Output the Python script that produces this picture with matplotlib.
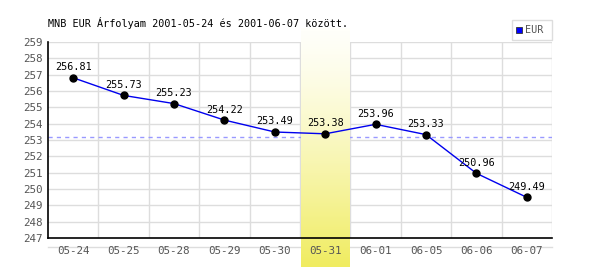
import numpy as np
import matplotlib.pyplot as plt
from matplotlib.patches import Rectangle
from matplotlib.colors import LinearSegmentedColormap

datumok = ["05-24", "05-25", "05-28", "05-29", "05-30",
           "05-31", "06-01", "06-05", "06-06", "06-07"]
arfolyam = [256.81, 255.73, 255.23, 254.22, 253.49,
            253.38, 253.96, 253.33, 250.96, 249.49]
atlag = 253.2
kiemelt = 5
cim = "MNB EUR Árfolyam 2001-05-24 és 2001-06-07 között."

plt.rcParams['font.family'] = ['DejaVu Sans Mono']

fig = plt.figure(figsize=(6, 2.7), dpi=100)
ax = fig.add_axes([0.08, 0.1185, 0.84, 0.7259])
x = np.arange(len(datumok))

# kiemelt nap sáv (színátmenet)
cmap = LinearSegmentedColormap.from_list("sarga", ["#fffffa", "#f0ec60"])
grad = np.linspace(0, 1, 256).reshape(-1, 1) ** 1.3
ax.imshow(grad, cmap=cmap, aspect='auto', extent=(kiemelt - 0.48, kiemelt + 0.48, 245.2, 259.8),
          origin='upper', zorder=2.5, clip_on=False)

ax.set_xlim(-0.5, len(datumok) - 0.5)
ax.set_ylim(247, 259)

for v in range(248, 260):
    ax.axhline(v, color="#dddddd", lw=1, zorder=1)
for i in range(len(datumok)):
    ax.axvline(i + 0.5, color="#dddddd", lw=1, zorder=1)

ax.axhline(atlag, color="#9999ff", lw=1, ls=(0, (3, 3)), zorder=2)
ax.plot(x, arfolyam, color="#0000ee", lw=1, zorder=3)
ax.plot(x, arfolyam, 'o', color="black", ms=5, zorder=4)
for i, v in enumerate(arfolyam):
    ax.annotate(f"{v:.2f}", (i, v), xytext=(0, 4), textcoords="offset points",
                ha="center", va="bottom", fontsize=7.3, color="black", zorder=5)

for s in ["top", "right"]:
    ax.spines[s].set_visible(False)
ax.spines["left"].set_linewidth(1.2)
ax.spines["bottom"].set_linewidth(1.2)
ax.spines["bottom"].set_zorder(6)

ax.set_xticks(x)
ax.set_xticklabels(datumok)
ax.set_yticks(range(247, 260))
ax.tick_params(length=0, labelsize=7.8, colors="#555555", pad=4)
ax.tick_params(axis='x', pad=6)
ax.xaxis.set_zorder(7)

# szürke vonal a dátumok alatt
ax.plot([-0.5, len(datumok) - 0.5], [246.45, 246.45], color="#dddddd", lw=1,
        clip_on=False, zorder=0)

fig.text(0.08, 0.915, cim, fontsize=7.3, color="black", va="center")

# jelmagyarázat
fig.patches.append(Rectangle((512 / 600, 230 / 270), 40 / 600, 20 / 270, transform=fig.transFigure,
                             facecolor="white", edgecolor="#dddddd", lw=1))
fig.patches.append(Rectangle((516 / 600, 237 / 270), 6 / 600, 6 / 270, transform=fig.transFigure,
                             facecolor="#0000ff", edgecolor="#333333", lw=0.6))
fig.text(525 / 600, 240 / 270, "EUR", fontsize=7.3, color="#555555", va="center")

fig.savefig("out.png", dpi=100)
